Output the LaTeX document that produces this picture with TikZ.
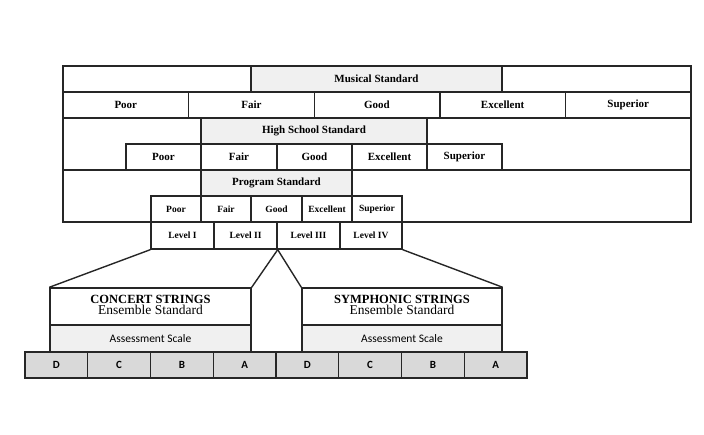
\documentclass[tikz,border=0pt]{standalone}
\usepackage{fontspec}
\setmainfont{Liberation Serif}
\newfontfamily\carl{Carlito}
\begin{document}
\begin{tikzpicture}[x=1pt,y=-1pt,line width=1.4pt,
  lab/.style={font=\bfseries\fontsize{11}{12}\selectfont},
  sm/.style={font=\bfseries\fontsize{9.5}{11}\selectfont},
  gr/.style={fill=gray!12},
  dk/.style={fill=gray!30},
  line/.style={draw=black!85}]
\useasboundingbox (0,0) rectangle (704,435);
\newcommand\cell[7]{\node[draw=black!85,line width=1.4pt,inner sep=0,minimum width=#4-#2,minimum height=#5-#3,#7] (#1) at ({(#2+#4)/2},{(#3+#5)/2}) {#6};}
\newcommand\grade[1]{\carl\bfseries\fontsize{11}{12}\selectfont #1}
% outer frame
\cell{frame}{63}{66}{691}{222}{}{}
\draw[line] (63,170) -- (691,170);
\cell{mus}{251}{66}{502}{92}{Musical Standard}{gr,lab}
\cell{a1}{63}{92}{188.6}{118}{Poor}{lab}
\cell{a2}{188.6}{92}{314.2}{118}{Fair}{lab}
\cell{a3}{314.2}{92}{439.8}{118}{Good}{lab}
\cell{a4}{439.8}{92}{565.4}{118}{Excellent}{lab}
\cell{a5}{565.4}{92}{691}{118}{Superior}{lab}
\cell{hs}{201}{118}{427}{144}{High School Standard}{gr,lab}
\cell{b1}{126}{144}{201}{170}{Poor}{lab}
\cell{b2}{201}{144}{277}{170}{Fair}{lab}
\cell{b3}{277}{144}{352}{170}{Good}{lab}
\cell{b4}{352}{144}{427}{170}{Excellent}{lab}
\cell{b5}{427}{144}{502}{170}{Superior}{lab}
\cell{ps}{201}{170}{352}{196}{Program Standard}{gr,lab}
\cell{c1}{151}{196}{201}{222}{Poor}{sm}
\cell{c2}{201}{196}{251}{222}{Fair}{sm}
\cell{c3}{251}{196}{302}{222}{Good}{sm}
\cell{c4}{302}{196}{352}{222}{Excellent}{sm}
\cell{c5}{352}{196}{402}{222}{Superior}{sm}
\cell{l1}{151}{222}{214}{249}{Level I}{sm}
\cell{l2}{214}{222}{277}{249}{Level II}{sm}
\cell{l3}{277}{222}{340}{249}{Level III}{sm}
\cell{l4}{340}{222}{402}{249}{Level IV}{sm}
% ensembles
\cell{cs}{50}{288}{251}{325}{\begin{tabular}{@{}c@{}}\bfseries\fontsize{12.5}{14}\selectfont CONCERT STRINGS\\[-2pt]\fontsize{13.5}{15}\selectfont Ensemble Standard\end{tabular}}{}
\cell{csa}{50}{325}{251}{352}{\carl\fontsize{11.5}{13}\selectfont Assessment Scale}{gr}
\cell{ss}{302}{288}{502}{325}{\begin{tabular}{@{}c@{}}\bfseries\fontsize{12.5}{14}\selectfont SYMPHONIC STRINGS\\[-2pt]\fontsize{13.5}{15}\selectfont Ensemble Standard\end{tabular}}{}
\cell{ssa}{302}{325}{502}{352}{\carl\fontsize{11.5}{13}\selectfont Assessment Scale}{gr}
\cell{g1}{25}{352}{87.75}{378}{\grade{D}}{dk}
\cell{g2}{87.75}{352}{150.5}{378}{\grade{C}}{dk}
\cell{g3}{150.5}{352}{213.25}{378}{\grade{B}}{dk}
\cell{g4}{213.25}{352}{276}{378}{\grade{A}}{dk}
\cell{g5}{276}{352}{338.75}{378}{\grade{D}}{dk}
\cell{g6}{338.75}{352}{401.5}{378}{\grade{C}}{dk}
\cell{g7}{401.5}{352}{464.25}{378}{\grade{B}}{dk}
\cell{g8}{464.25}{352}{527}{378}{\grade{A}}{dk}
% connectors
\draw[line] (l1.south west) -- (cs.north west);
\draw[line] (l2.south east) -- (cs.north east);
\draw[line] (l2.south east) -- (ss.north west);
\draw[line] (l4.south east) -- (ss.north east);
\end{tikzpicture}
\end{document}
